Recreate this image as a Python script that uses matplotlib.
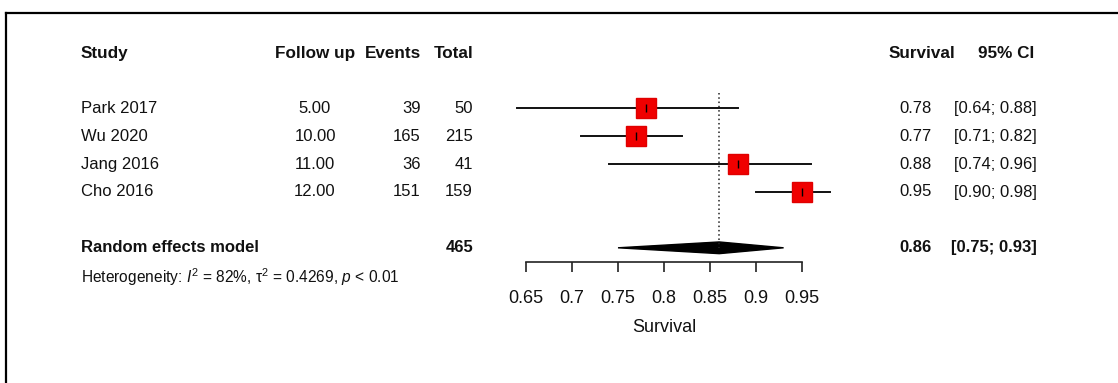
import matplotlib
matplotlib.use("Agg")
import matplotlib.pyplot as plt
from matplotlib import transforms
from matplotlib.lines import Line2D
from matplotlib.patches import Polygon

plt.rcParams['font.family'] = ['Liberation Sans', 'DejaVu Sans']
plt.rcParams['mathtext.fontset'] = 'custom'
plt.rcParams['mathtext.rm'] = 'Liberation Sans'
plt.rcParams['mathtext.it'] = 'Liberation Sans:italic'

studies = ["Park 2017", "Wu 2020", "Jang 2016", "Cho 2016"]
follow_up = [5.00, 10.00, 11.00, 12.00]
events = [39, 165, 36, 151]
totals = [50, 215, 41, 159]
surv = [0.78, 0.77, 0.88, 0.95]
ci_lo = [0.64, 0.71, 0.74, 0.90]
ci_hi = [0.88, 0.82, 0.96, 0.98]

re_est, re_lo, re_hi = 0.86, 0.75, 0.93
re_total = 465
het_text = "Heterogeneity: $I^2$ = 82%, τ$^2$ = 0.4269, $p$ < 0.01"
xticks = [0.65, 0.7, 0.75, 0.8, 0.85, 0.9, 0.95]

W, H = 1118, 383
fig = plt.figure(figsize=(W / 100, H / 100), dpi=100)

# row layout in pixels
row0 = 108.3
step = 27.9
ax_top, ax_bot = 30, 262
ax = fig.add_axes([526 / W, (H - ax_bot) / H, 276 / W, (ax_bot - ax_top) / H])
ax.set_xlim(0.65, 0.95)
ax.set_ylim((ax_bot - row0) / step, (ax_top - row0) / step)
ax.patch.set_alpha(0)
for s in ["top", "left", "right"]:
    ax.spines[s].set_visible(False)
ax.spines["bottom"].set_linewidth(1.2)
ax.spines["bottom"].set_color("#222222")
ax.set_yticks([])
ax.set_xticks(xticks)
ax.set_xticklabels([f"{t:g}" for t in xticks])
ax.tick_params(axis="x", direction="out", length=7.5, width=1.2, color="#222222",
               pad=13, labelsize=13, labelcolor="#111111")
ax.set_xlabel("Survival", fontsize=13, labelpad=8, color="#111111")

rows = list(range(len(studies)))
re_row = 5

# reference line at pooled estimate
ax.plot([re_est, re_est], [-0.55, re_row], ls=(0, (1, 1.8)), color="#222222", lw=1.1, clip_on=False)

for i in rows:
    ax.plot([ci_lo[i], ci_hi[i]], [i, i], color="#111111", lw=1.4, clip_on=False, zorder=2)
    ax.plot(surv[i], i, marker="s", ms=14.2, color="#f00000", mec="#e00000", clip_on=False, zorder=3)
    ax.plot(surv[i], i, marker="|", ms=6, mew=1, color="black", clip_on=False, zorder=4)

dh = 0.21
ax.add_patch(Polygon([[re_lo, re_row], [re_est, re_row - dh], [re_hi, re_row], [re_est, re_row + dh]],
                     closed=True, color="black", clip_on=False))

# table columns (x in figure pixels, y in row units)
tr = transforms.blended_transform_factory(fig.transFigure, ax.transData)
def txt(xp, y, s, ha="left", bold=False, size=12):
    ax.text(xp / W, y, s, transform=tr, ha=ha, va="center", fontsize=size,
            fontweight="bold" if bold else "normal", color="#111111", clip_on=False)

hdr = -1.97
txt(81, hdr, "Study", bold=True, size=12.3)
txt(315, hdr, "Follow up", ha="center", bold=True, size=12.3)
txt(421, hdr, "Events", ha="right", bold=True, size=12.3)
txt(473, hdr, "Total", ha="right", bold=True, size=12.3)
txt(889, hdr, "Survival", bold=True, size=12.3)
txt(1034, hdr, "95% CI", ha="right", bold=True, size=12.3)

for i in rows:
    txt(81, i, studies[i])
    txt(315, i, f"{follow_up[i]:.2f}", ha="center")
    txt(421, i, str(events[i]), ha="right")
    txt(473, i, str(totals[i]), ha="right")
    txt(932, i, f"{surv[i]:.2f}", ha="right")
    txt(1037, i, f"[{ci_lo[i]:.2f}; {ci_hi[i]:.2f}]", ha="right")

txt(81, re_row, "Random effects model", bold=True)
txt(473, re_row, str(re_total), ha="right", bold=True)
txt(932, re_row, f"{re_est:.2f}", ha="right", bold=True)
txt(1037, re_row, f"[{re_lo:.2f}; {re_hi:.2f}]", ha="right", bold=True)
txt(81, 6.04, het_text, size=11.2)

# frame: top and left edges only
fig.add_artist(Line2D([6 / W, 1], [(H - 13) / H, (H - 13) / H], transform=fig.transFigure, color="black", lw=1.6))
fig.add_artist(Line2D([6 / W, 6 / W], [0, (H - 13) / H], transform=fig.transFigure, color="black", lw=1.6))

fig.savefig("out.png", dpi=100)
